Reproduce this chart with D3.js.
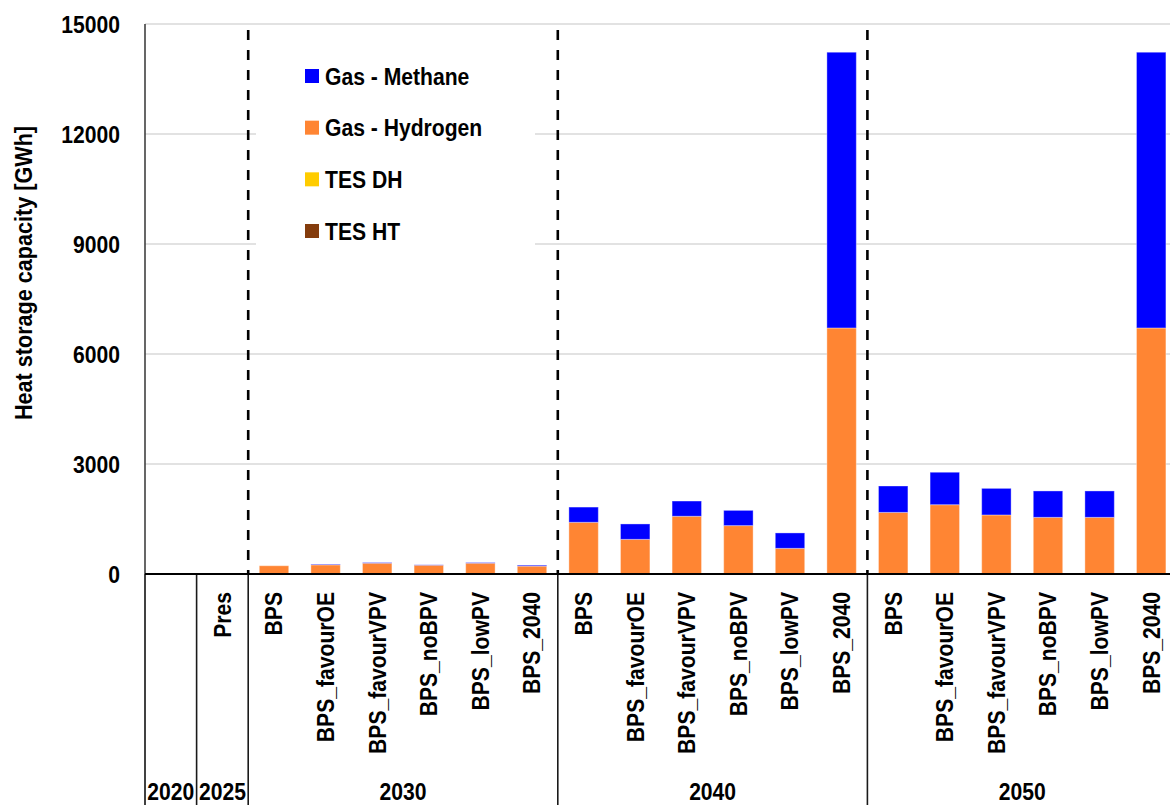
<!DOCTYPE html>
<html>
<head>
<meta charset="utf-8">
<script src="https://cdn.jsdelivr.net/npm/d3@7"></script>
<style>
  html, body { margin: 0; padding: 0; background: #fff; }
  svg { display: block; }
  text { font-family: "Liberation Sans", Arial, sans-serif; font-weight: bold; fill: #000; }
</style>
</head>
<body>
<svg id="chart" width="1170" height="805"></svg>
<script>
// ---------------- DATA ----------------
const groupYears = ["2020", "2025", "2030", "2040", "2050"];
const categoryYears = [
  "2020", "2025",
  "2030", "2030", "2030", "2030", "2030", "2030",
  "2040", "2040", "2040", "2040", "2040", "2040",
  "2050", "2050", "2050", "2050", "2050", "2050"
];
const categoryNames = [
  "", "Pres",
  "BPS", "BPS_favourOE", "BPS_favourVPV", "BPS_noBPV", "BPS_lowPV", "BPS_2040",
  "BPS", "BPS_favourOE", "BPS_favourVPV", "BPS_noBPV", "BPS_lowPV", "BPS_2040",
  "BPS", "BPS_favourOE", "BPS_favourVPV", "BPS_noBPV", "BPS_lowPV", "BPS_2040"
];
const seriesKeys = ["TES HT", "TES DH", "Gas - Hydrogen", "Gas - Methane"];
const legendOrder = ["Gas - Methane", "Gas - Hydrogen", "TES DH", "TES HT"];
const seriesColors = ["#843C0C", "#FFCC00", "#FF8533", "#0000FF"];
const tesHT    = [0,0, 0,0,0,0,0,0, 0,0,0,0,0,0, 0,0,0,0,0,0];
const tesDH    = [0,0, 0,0,0,0,0,0, 0,0,0,0,0,0, 0,0,0,0,0,0];
const hydrogen = [0,0, 225,250,295,240,295,215, 1410,945,1575,1320,700,6710, 1680,1890,1610,1545,1545,6710];
const methane  = [0,0, 0,15,15,10,15,25, 415,420,415,415,420,7520, 720,885,725,720,720,7520];
const yTicks = [0, 3000, 6000, 9000, 12000, 15000];
const yTitle = "Heat storage capacity [GWh]";

// ---------------- LAYOUT ----------------
const svg = d3.select("#chart");
const W = 1170, H = 805;
const plotLeft = 145, plotRight = 1177, plotTop = 24, zeroY = 574;
const SX = 0.88; // horizontal condensation of text

const keys = categoryNames.map((n, i) => categoryYears[i] + "|" + n + "|" + i);
const rows = keys.map((k, i) => ({
  key: k,
  "TES HT": tesHT[i], "TES DH": tesDH[i],
  "Gas - Hydrogen": hydrogen[i], "Gas - Methane": methane[i]
}));

const pad = 0.43;
const x = d3.scaleBand().domain(keys).range([plotLeft, plotRight]).paddingInner(pad).paddingOuter(pad / 2);
const y = d3.scaleLinear().domain([0, 15000]).range([zeroY, plotTop]);
const color = d3.scaleOrdinal().domain(seriesKeys).range(seriesColors);
const step = x.step();
const slotLeft = k => x(k) - (step - x.bandwidth()) / 2;

svg.append("rect").attr("width", W).attr("height", H).attr("fill", "#fff");

// gridlines
svg.append("g").selectAll("line").data(yTicks.filter(d => d > 0)).join("line")
  .attr("x1", plotLeft).attr("x2", W)
  .attr("y1", d => y(d)).attr("y2", d => y(d))
  .attr("stroke", "#d9d9d9").attr("stroke-width", 1.5);

// y tick labels
svg.append("g").selectAll("g").data(yTicks).join("g")
  .attr("transform", d => `translate(120,${y(d)}) scale(${SX},1)`)
  .append("text")
  .attr("text-anchor", "end").attr("dy", "0.36em")
  .style("font-size", "24px")
  .text(d => d);

// y title
svg.append("g").attr("transform", `translate(32,273) rotate(-90) scale(0.9,1)`)
  .append("text").attr("text-anchor", "middle").style("font-size", "24px").text(yTitle);

// legend background (covers gridlines)
svg.append("rect").attr("x", 256).attr("y", 36).attr("width", 279).attr("height", 222).attr("fill", "#fff");

// bars
const stacked = d3.stack().keys(seriesKeys)(rows);
svg.append("g").selectAll("g").data(stacked).join("g")
  .attr("fill", d => color(d.key))
  .selectAll("rect").data(d => d.map(v => ({ v, key: v.data.key })).filter(o => o.v[1] - o.v[0] > 0)).join("rect")
  .attr("x", d => x(d.key))
  .attr("width", x.bandwidth())
  .attr("y", d => y(d.v[1]))
  .attr("height", d => y(d.v[0]) - y(d.v[1]))
  .attr("stroke", "rgba(255,255,255,0.35)").attr("stroke-width", 1);

// dashed separators between year groups
const dashKeys = keys.filter((k, i) => i > 0 && ["2030", "2040", "2050"].includes(categoryYears[i]) && categoryYears[i - 1] !== categoryYears[i]);
svg.append("g").selectAll("line").data(dashKeys).join("line")
  .attr("x1", d => slotLeft(d)).attr("x2", d => slotLeft(d))
  .attr("y1", 30).attr("y2", zeroY)
  .attr("stroke", "#000").attr("stroke-width", 2.6).attr("stroke-dasharray", "10,10");

// category separators (below axis)
const sepKeys = keys.filter((k, i) => i === 0 || categoryYears[i - 1] !== categoryYears[i]);
const sepXs = sepKeys.map(slotLeft).concat([plotRight]);
svg.append("g").selectAll("line").data(sepXs).join("line")
  .attr("x1", d => d).attr("x2", d => d)
  .attr("y1", zeroY).attr("y2", H)
  .attr("stroke", "#1a1a1a").attr("stroke-width", 1.6);

// left axis line
svg.append("line").attr("x1", plotLeft).attr("x2", plotLeft).attr("y1", plotTop).attr("y2", H)
  .attr("stroke", "#404040").attr("stroke-width", 1.6);
// zero line
svg.append("line").attr("x1", plotLeft).attr("x2", W).attr("y1", zeroY).attr("y2", zeroY)
  .attr("stroke", "#000").attr("stroke-width", 2.2);

// category labels
svg.append("g").selectAll("g").data(keys.filter((k, i) => categoryNames[i] !== "")).join("g")
  .attr("transform", d => `translate(${x(d) + x.bandwidth() / 2},592) rotate(-90) scale(${SX},1)`)
  .append("text")
  .attr("text-anchor", "end").attr("dy", "0.35em")
  .style("font-size", "24px")
  .text(d => d.split("|")[1]);

// year group labels
svg.append("g").selectAll("g").data(groupYears).join("g")
  .attr("transform", yr => {
    const ks = keys.filter((k, i) => categoryYears[i] === yr);
    const x0 = slotLeft(ks[0]);
    const x1 = slotLeft(ks[ks.length - 1]) + step;
    return `translate(${(x0 + x1) / 2},800) scale(${SX},1)`;
  })
  .append("text").attr("text-anchor", "middle").style("font-size", "24px")
  .text(d => d);

// legend
const legendRowY = d3.scalePoint().domain(legendOrder).range([76, 231]);
const lg = svg.append("g").selectAll("g").data(legendOrder).join("g");
lg.append("rect")
  .attr("x", 305).attr("y", d => legendRowY(d) - 7)
  .attr("width", 14).attr("height", 14)
  .attr("fill", d => color(d));
lg.append("g").attr("transform", d => `translate(325,${legendRowY(d)}) scale(${SX},1)`)
  .append("text").attr("dy", "0.36em").style("font-size", "24px").text(d => d);
</script>
</body>
</html>
